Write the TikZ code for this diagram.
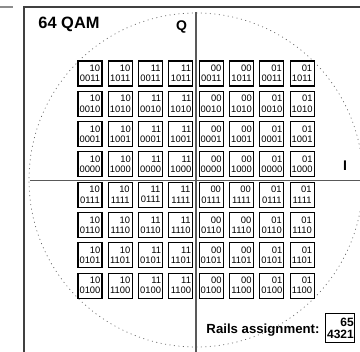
\documentclass[tikz,border=0pt]{standalone}
\usepackage{fontspec}
\setmainfont{Liberation Sans}
\begin{document}
\begin{tikzpicture}[x=1pt,y=-1pt,
  sym/.style={draw=black,line width=1.1pt,fill=white,minimum width=24pt,minimum height=25pt,inner sep=1pt,align=right,font=\fontsize{9.4}{10.2}\selectfont},
  axis/.style={draw=black!65,line width=1.3pt},
  frame/.style={draw=black!75,line width=1.4pt},
  ring/.style={draw=black!60,line width=0.7pt,dash pattern=on 1pt off 3.5pt}]
\useasboundingbox (0,0) rectangle (360,352);
\begin{scope}
\clip (0,0) rectangle (360,352);
\draw[ring] (196,180) circle (167);
\end{scope}
\draw[draw=black!45,line width=1.2pt] (0,7) -- (13,7);
\draw[frame] (24,352) -- (24,7) -- (360,7);
\draw[axis] (30,180.5) -- (360,180.5);
\draw[axis] (196,12) -- (196,352);
\node[font=\fontsize{16.4}{16}\bfseries\selectfont] (title) at (69,24) {64 QAM};
\node[font=\fontsize{14}{14}\bfseries\selectfont] (Q) at (181.5,27) {Q};
\node[font=\fontsize{14}{14}\bfseries\selectfont] (I) at (345,166) {I};
\def\tops{{"10","10","11","11","00","00","01","01"}}
\def\ends{{"11","10","01","00"}}
\foreach \i in {0,...,7}{
  \foreach \j in {0,...,7}{
    \pgfmathsetmacro{\tp}{\tops[\i]}
    \pgfmathtruncatemacro{\ca}{mod(\i,2)}
    \pgfmathtruncatemacro{\rb}{\j<4 ? 0 : 1}
    \pgfmathsetmacro{\ed}{\ends[mod(\j,4)]}
    \node[sym] (s\i\j) at (90+30.3*\i,73.5+30.3*\j) {\tp\\\ca\rb\ed};
  }
}
\node[font=\fontsize{13.2}{13.2}\bfseries\selectfont,anchor=east] (rails) at (323,330) {Rails assignment:};
\node[draw=black,line width=1pt,fill=white,minimum width=29pt,minimum height=29pt,inner sep=1pt,align=right,font=\fontsize{12}{12.5}\bfseries\selectfont] (key) at (340.5,328.5) {65\\4321};
\end{tikzpicture}
\end{document}
